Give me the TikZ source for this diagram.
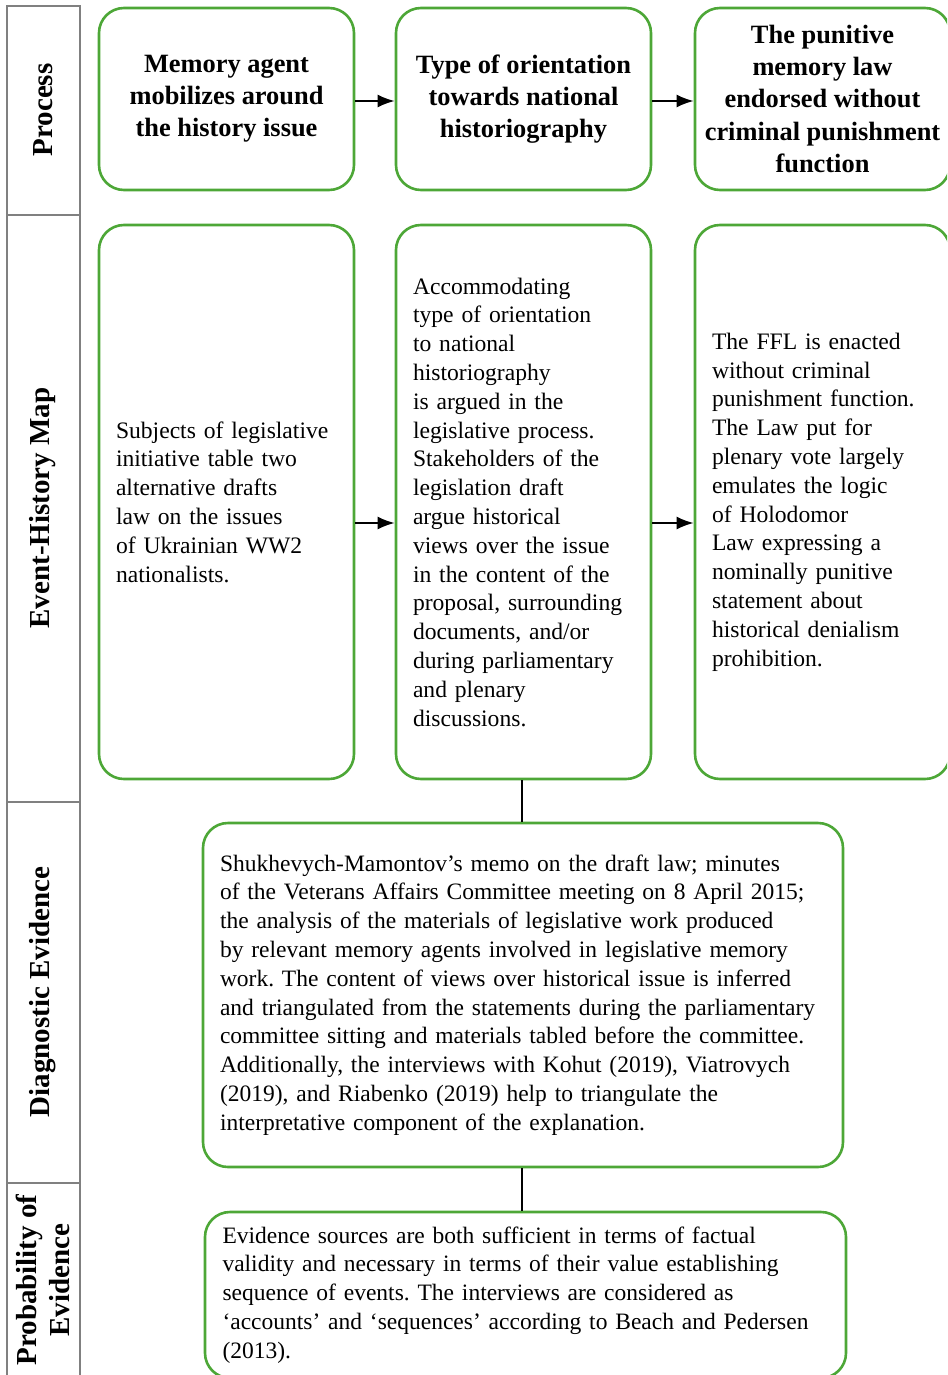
\documentclass[tikz,border=0pt]{standalone}
\usepackage{fontspec}
\setmainfont{Liberation Serif}
\usepackage{xcolor}
\usetikzlibrary{arrows.meta}
\usetikzlibrary{positioning}
\definecolor{lawgreen}{RGB}{77,167,55}
\definecolor{rulegray}{RGB}{128,128,128}
\frenchspacing
\tikzset{
    >={Latex[length=17pt,width=13pt]},
    stagebox/.style={
        draw=lawgreen,
        line width=2.6pt,
        rounded corners=25pt,
        inner sep=0pt,
    },
    headbox/.style={
        stagebox,
        minimum width=255pt,
        minimum height=182pt,
        align=center,
        font=\bfseries\fontsize{26.4}{32.2}\selectfont,
    },
    mapbox/.style={
        stagebox,
        minimum width=255pt,
        minimum height=554pt,
        text width=221pt,
        align=left,
        font=\fontsize{23.6}{28.8}\selectfont,
    },
    evidbox/.style={
        stagebox,
        text width=606pt,
        align=left,
        font=\fontsize{23.5}{28.8}\selectfont,
    },
    rowlabel/.style={
        rotate=90,
        align=center,
        font=\bfseries\fontsize{29}{33}\selectfont,
    },
    link/.style={line width=2pt},
}

\begin{document}
\begin{tikzpicture}[x=1pt, y=-1pt]
        \useasboundingbox (0,0) rectangle (947,1375);
        \clip (0,0) rectangle (947,1375);

        % row labels
        \draw[rulegray, line width=2.4pt] (7,6) rectangle (80,1390);
        \draw[rulegray, line width=2.4pt] (7,215) -- (80,215);
        \draw[rulegray, line width=2.4pt] (7,802) -- (80,802);
        \draw[rulegray, line width=2.4pt] (7,1183) -- (80,1183);
        \node[rowlabel] (lproc) at (43,110) {Process};
        \node[rowlabel] (lmap) at (43,508) {Event-History Map};
        \node[rowlabel] (ldiag) at (43,992) {Diagnostic Evidence};
        \node[rowlabel] (lprob) at (43,1280) {Probability of\\Evidence};

        % process
        \node[headbox] (agent) at (226.5,99) {Memory agent\\mobilizes around\\the history issue};
        \node[headbox] (orient) at (523.5,99) {Type of orientation\\towards national\\historiography};
        \node[headbox] (punit) at (822.5,99) {The punitive\\memory law\\endorsed without\\criminal punishment\\function};

        % event-history map
        \node[mapbox] (tabled) at (226.5,502) {Subjects of legislative\\initiative table two\\alternative drafts\\law on the issues\\of Ukrainian WW2\\nationalists.};
        \node[mapbox] (argued) at (523.5,502) {Accommodating\\type of orientation\\to national\\historiography\\is argued in the\\legislative process.\\Stakeholders of the\\legislation draft\\argue historical\\views over the issue\\in the content of the\\proposal, surrounding\\documents, and/or\\during parliamentary\\and plenary\\discussions.};
        \node[mapbox] (enacted) at (822.5,502) {The FFL is enacted\\without criminal\\punishment function.\\The Law put for\\plenary vote largely\\emulates the logic\\of Holodomor\\Law expressing a\\nominally punitive\\statement about\\historical denialism\\prohibition.};

        % evidence
        \node[evidbox, minimum width=640pt, minimum height=344pt] (diag) at (523,995) {Shukhevych-Mamontov’s memo on the draft law; minutes\\of the Veterans Affairs Committee meeting on 8 April 2015;\\the analysis of the materials of legislative work produced\\by relevant memory agents involved in legislative memory\\work. The content of views over historical issue is inferred\\and triangulated from the statements during the parliamentary\\committee sitting and materials tabled before the committee.\\Additionally, the interviews with Kohut (2019), Viatrovych\\(2019), and Riabenko (2019) help to triangulate the\\interpretative component of the explanation.};
        \node[evidbox, minimum width=641pt, minimum height=166pt] (prob) at (525.5,1295) {Evidence sources are both sufficient in terms of factual\\validity and necessary in terms of their value establishing\\sequence of events. The interviews are considered as\\‘accounts’ and ‘sequences’ according to Beach and Pedersen\\(2013).};

        % connectors
        \draw[link, ->] ([yshift=-2pt]agent.east) -- ([yshift=-2pt]orient.west);
        \draw[link, ->] ([yshift=-2pt]orient.east) -- ([yshift=-2pt]punit.west);
        \draw[link, ->] ([yshift=-21pt]tabled.east) -- ([yshift=-21pt]argued.west);
        \draw[link, ->] ([yshift=-21pt]argued.east) -- ([yshift=-21pt]enacted.west);
        \draw[link] ([xshift=-1.5pt]argued.south) -- ([xshift=-1pt]diag.north);
        \draw[link] ([xshift=-1pt]diag.south) -- ([xshift=-3.5pt]prob.north);
    \end{tikzpicture}
\end{document}
